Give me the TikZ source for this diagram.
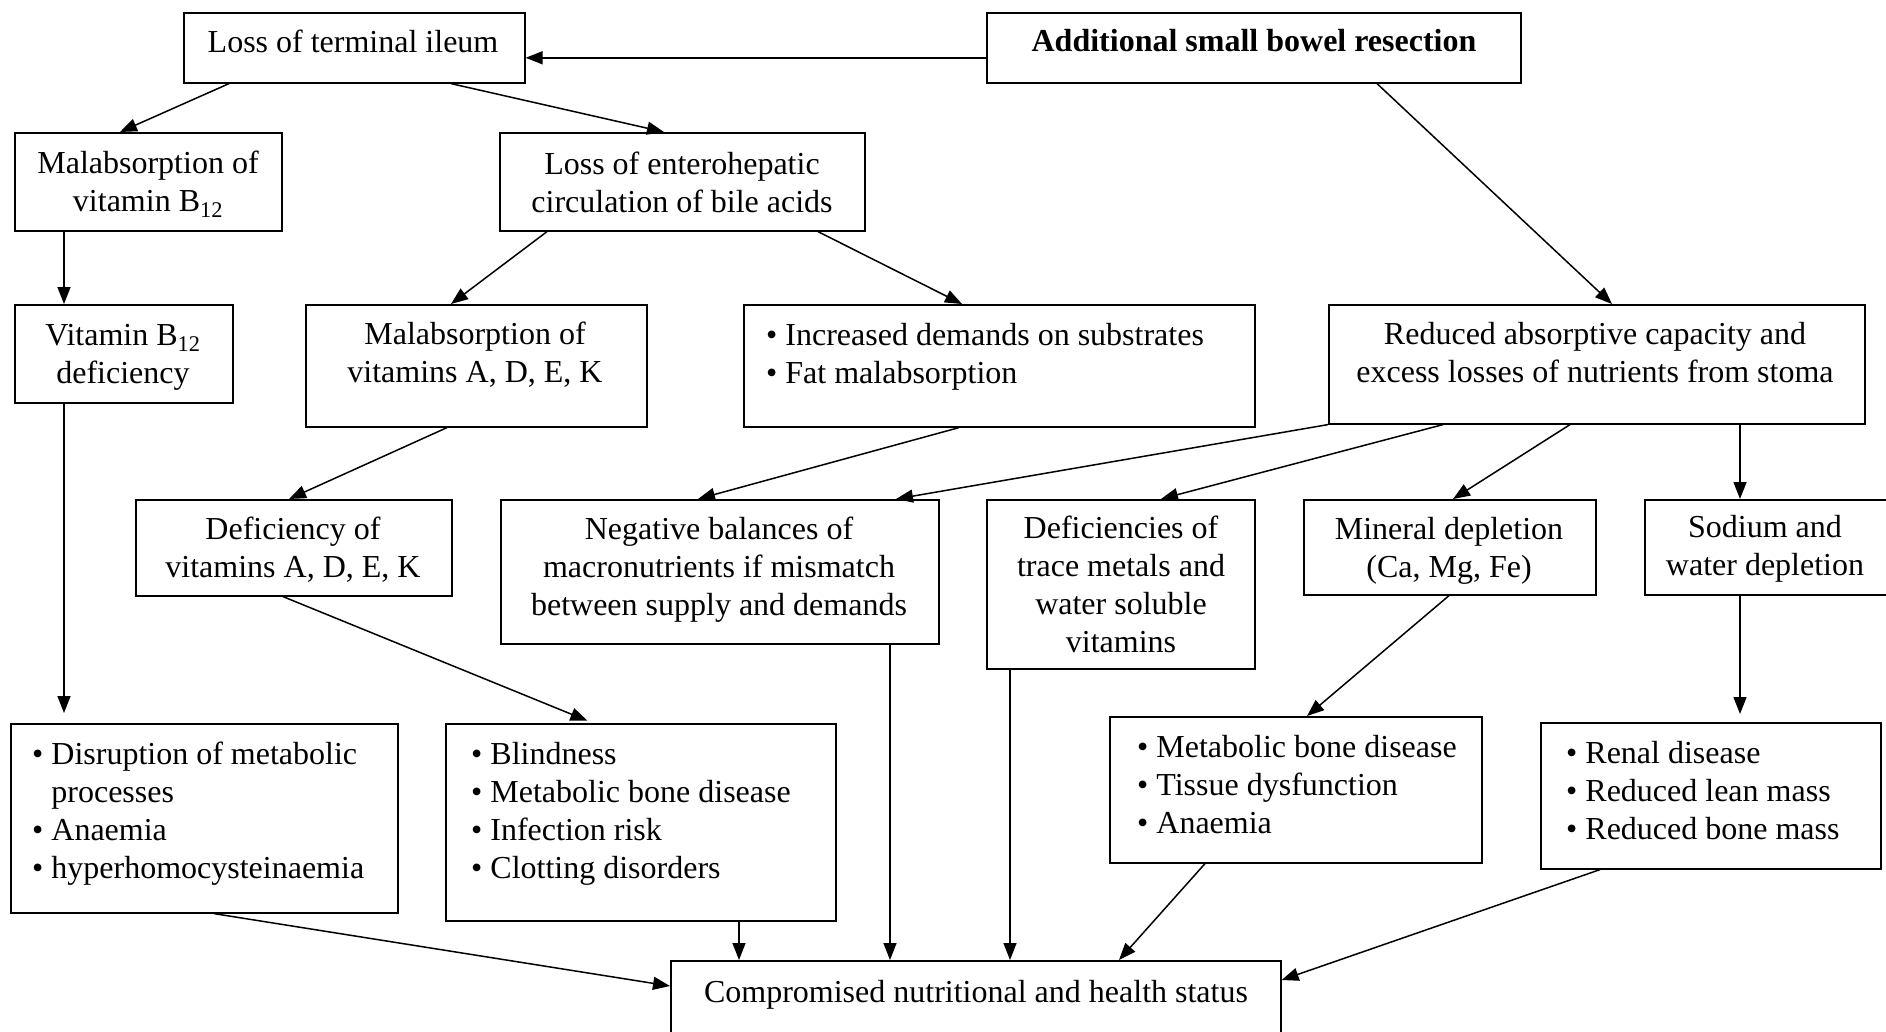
\documentclass[tikz,border=0pt]{standalone}
\usepackage{fontspec}
\setmainfont{Liberation Serif}
\usetikzlibrary{arrows.meta}
\begin{document}
\begin{tikzpicture}[x=1pt,y=-1pt,
  box/.style={draw=black, line width=1.6pt, inner sep=0pt, anchor=north west},
  txt/.style={inner sep=0pt, font=\fontsize{32}{38}\selectfont},
  arr/.style={line width=1.5pt, -{Triangle[length=17pt,width=13pt]}}]
\useasboundingbox (0,0) rectangle (1886,1031);
\clip (0,0) rectangle (1886,1031);
\newcommand\bx[5]{\node[box, minimum width=#4pt, minimum height=#5pt] (#1) at (#2,#3) {};}
% boxes
\bx{n1}{183}{12}{341}{70}
\bx{n2}{986}{12}{534}{70}
\bx{n3}{14}{132}{267}{98}
\bx{n4}{499}{132}{365}{98}
\bx{n5}{14}{304}{218}{98}
\bx{n6}{305}{304}{341}{122}
\bx{n7}{743}{304}{511}{122}
\bx{n8}{1328}{304}{536}{119}
\bx{n9}{135}{499}{316}{96}
\bx{n10}{500}{499}{438}{144}
\bx{n11}{986}{499}{268}{169}
\bx{n12}{1303}{499}{292}{95}
\bx{n13}{1644}{499}{256}{95}
\bx{n14}{10}{723}{387}{189}
\bx{n15}{445}{723}{390}{197}
\bx{n16}{1109}{716}{372}{146}
\bx{n17}{1540}{722}{340}{146}
\bx{n18}{670}{960}{610}{85}
% texts
\node[txt] (t1) at (353,41) {Loss of terminal ileum};
\node[txt] (t2) at (1254,41) {\bfseries Additional small bowel resection};
\node[txt, align=center] (t3) at (148,184.5) {Malabsorption of\\vitamin B\textsubscript{12}};
\node[txt, align=center] (t4) at (682,182) {Loss of enterohepatic\\circulation of bile acids};
\node[txt, align=center] (t5) at (123,357) {Vitamin B\textsubscript{12}\\deficiency};
\node[txt, align=center] (t6) at (475,354.5) {Malabsorption of\\vitamins A, D, E, K};
\node[txt, align=left, anchor=west] (t7) at (766,357) {• Increased demands on substrates\\• Fat malabsorption};
\node[txt, align=center] (t8) at (1595,352.5) {Reduced absorptive capacity and\\excess losses of nutrients from stoma};
\node[txt, align=center] (t9) at (293,549.5) {Deficiency of\\vitamins A, D, E, K};
\node[txt, align=center] (t10) at (719,569.5) {Negative balances of\\macronutrients if mismatch\\between supply and demands};
\node[txt, align=center] (t11) at (1121,584) {Deficiencies of\\trace metals and\\water soluble\\vitamins};
\node[txt, align=center] (t12) at (1449,550.5) {Mineral depletion\\(Ca, Mg, Fe)};
\node[txt, align=center] (t13) at (1765,549) {Sodium and\\water depletion};
\node[txt, align=left, anchor=west] (t14) at (32,814) {• Disruption of metabolic\\\phantom{• }processes\\• Anaemia\\• hyperhomocysteinaemia};
\node[txt, align=left, anchor=west] (t15) at (471,814) {• Blindness\\• Metabolic bone disease\\• Infection risk\\• Clotting disorders};
\node[txt, align=left, anchor=west] (t16) at (1137,785) {• Metabolic bone disease\\• Tissue dysfunction\\• Anaemia};
\node[txt, align=left, anchor=west] (t17) at (1566,791) {• Renal disease\\• Reduced lean mass\\• Reduced bone mass};
\node[txt] (t18) at (976,995) {Compromised nutritional and health status};
% arrows
\draw[arr] ([yshift=-10pt]n2.west) -- ([yshift=-10pt]n1.east);
\draw[arr] ([xshift=46pt]n1.south west) -- ([xshift=106pt]n3.north west);
\draw[arr] ([xshift=268pt]n1.south west) -- ([xshift=165pt]n4.north west);
\draw[arr] ([xshift=50pt]n3.south west) -- ([xshift=50pt]n5.north west);
\draw[arr] ([xshift=48pt]n4.south west) -- ([xshift=146pt]n6.north west);
\draw[arr] ([xshift=319pt]n4.south west) -- ([xshift=219pt]n7.north west);
\draw[arr] ([xshift=391pt]n2.south west) -- ([xshift=284pt]n8.north west);
\draw[arr, shorten >=10pt] ([xshift=50pt]n5.south west) -- ([xshift=54pt]n14.north west);
\draw[arr] ([xshift=142pt]n6.south west) -- ([xshift=154pt]n9.north west);
\draw[arr] ([xshift=216pt]n7.south west) -- ([xshift=198pt]n10.north west);
\draw[arr] (n8.south west) -- ([xshift=396pt]n10.north west);
\draw[arr] ([xshift=115pt]n8.south west) -- ([xshift=175pt]n11.north west);
\draw[arr] ([xshift=242pt]n8.south west) -- ([xshift=150pt]n12.north west);
\draw[arr] ([xshift=412pt]n8.south west) -- ([xshift=96pt]n13.north west);
\draw[arr, shorten >=6pt] ([xshift=148pt]n9.south west) -- ([xshift=148pt]n15.north west);
\draw[arr] ([xshift=146pt]n12.south west) -- ([xshift=198pt]n16.north west);
\draw[arr, shorten >=8pt] ([xshift=96pt]n13.south west) -- ([xshift=200pt]n17.north west);
\draw[arr] ([xshift=204pt]n14.south west) -- ([yshift=-26pt]n18.north west);
\draw[arr] ([xshift=294pt]n15.south west) -- ([xshift=69pt]n18.north west);
\draw[arr] ([xshift=390pt]n10.south west) -- ([xshift=220pt]n18.north west);
\draw[arr] ([xshift=24pt]n11.south west) -- ([xshift=340pt]n18.north west);
\draw[arr] ([xshift=96pt]n16.south west) -- ([xshift=449pt]n18.north west);
\draw[arr] ([xshift=60pt]n17.south west) -- ([yshift=-20pt]n18.north east);
\end{tikzpicture}
\end{document}
